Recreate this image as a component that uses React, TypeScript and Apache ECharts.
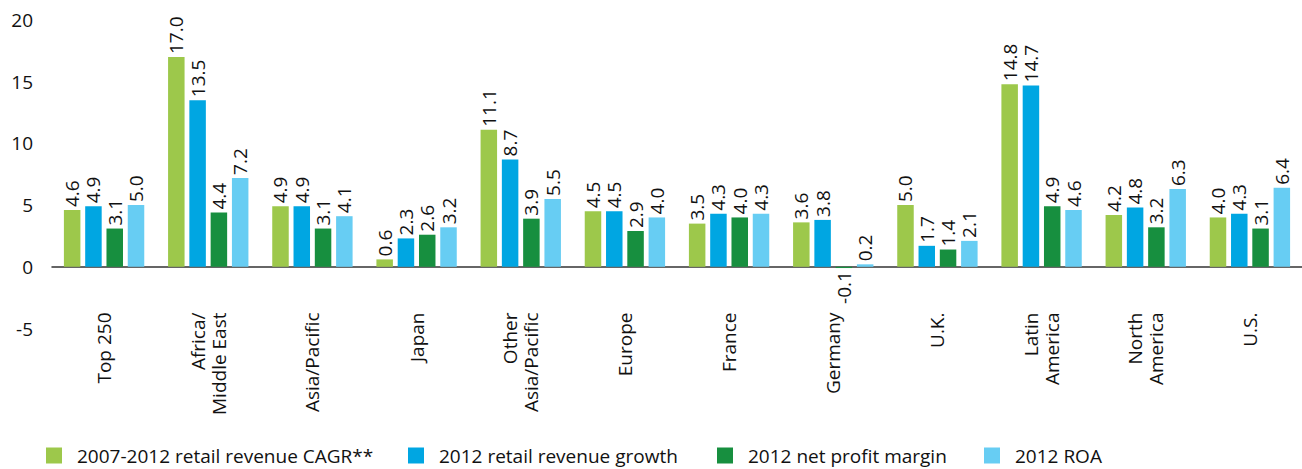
import React, { useEffect, useRef } from "react";
import * as echarts from "echarts";

const categories = [
  "Top 250",
  "Africa/\nMiddle East",
  "Asia/Pacific",
  "Japan",
  "Other\nAsia/Pacific",
  "Europe",
  "France",
  "Germany",
  "U.K.",
  "Latin\nAmerica",
  "North\nAmerica",
  "U.S.",
];

const seriesNames = [
  "2007-2012 retail revenue CAGR**",
  "2012 retail revenue growth",
  "2012 net profit margin",
  "2012 ROA",
];

const cagr = [4.6, 17.0, 4.9, 0.6, 11.1, 4.5, 3.5, 3.6, 5.0, 14.8, 4.2, 4.0];
const revenueGrowth = [4.9, 13.5, 4.9, 2.3, 8.7, 4.5, 4.3, 3.8, 1.7, 14.7, 4.8, 4.3];
const netProfitMargin = [3.1, 4.4, 3.1, 2.6, 3.9, 2.9, 4.0, -0.1, 1.4, 4.9, 3.2, 3.1];
const roa = [5.0, 7.2, 4.1, 3.2, 5.5, 4.0, 4.3, 0.2, 2.1, 4.6, 6.3, 6.4];

const colors = ["#9DC84B", "#00A6E2", "#178F3F", "#67CDF3"];
const legendLefts = [46, 408, 717, 984];

const FONT = "'Open Sans', sans-serif";

export default function App() {
  const ref = useRef<HTMLDivElement>(null);

  useEffect(() => {
    document.body.style.margin = "0";
    if (!ref.current) return;
    const chart = echarts.init(ref.current, null, { renderer: "svg" });
    const allSeries = [cagr, revenueGrowth, netProfitMargin, roa];

    const series = allSeries.map((values, i) => ({
      name: seriesNames[i],
      type: "bar",
      barWidth: 16.5,
      barGap: "29%",
      itemStyle: { color: colors[i] },
      label: {
        show: true,
        position: "top",
        rotate: 90,
        align: "left",
        verticalAlign: "middle",
        distance: 3,
        fontSize: 19,
        fontFamily: FONT,
        color: "#111",
        formatter: (p: any) => Number(p.value).toFixed(1),
      },
      data: values.map((v) =>
        v < 0
          ? { value: v, label: { position: "bottom", align: "right" } }
          : v
      ),
    }));

    const legends = seriesNames.map((name, i) => ({
      left: legendLefts[i],
      top: 446,
      padding: 0,
      itemWidth: 16,
      itemHeight: 16,
      icon: "rect",
      data: [name],
      textStyle: {
        fontSize: 19,
        lineHeight: 16,
        fontFamily: FONT,
        color: "#111",
        padding: [0, 0, 0, 10],
      },
    }));

    chart.setOption({
      animation: false,
      textStyle: { fontFamily: FONT },
      color: colors,
      grid: {
        left: 52,
        right: 0,
        top: 20,
        bottom: 140.5,
        containLabel: false,
        outerBoundsMode: "none",
      },
      legend: legends,
      xAxis: {
        type: "category",
        data: categories,
        axisTick: { show: false },
        axisLine: { onZero: true, lineStyle: { color: "#333", width: 1.5 } },
        axisLabel: {
          interval: 0,
          rotate: 90,
          margin: -16,
          fontSize: 19,
          lineHeight: 21,
          fontFamily: FONT,
          color: "#111",
        },
      },
      yAxis: {
        type: "value",
        min: -5,
        max: 20,
        interval: 5,
        splitLine: { show: false },
        axisLine: { show: false },
        axisTick: { show: false },
        axisLabel: {
          margin: 19,
          fontSize: 19,
          fontFamily: FONT,
          color: "#111",
        },
      },
      series,
    });

    return () => chart.dispose();
  }, []);

  return <div ref={ref} style={{ width: 1302, height: 469 }} />;
}
